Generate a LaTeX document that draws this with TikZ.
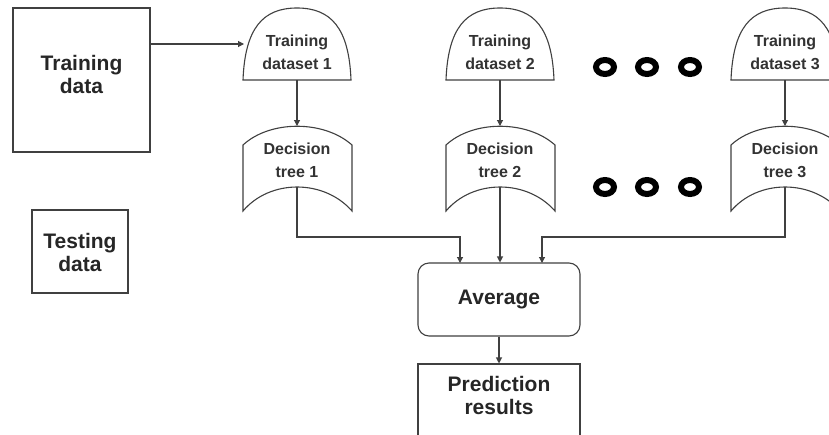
\documentclass[tikz,border=0pt]{standalone}
\usepackage{fontspec}
\setmainfont{Liberation Sans}
\usetikzlibrary{arrows.meta}
\begin{document}
\begin{tikzpicture}[x=1pt,y=-1pt,
  shp/.style={draw=black!75,line width=1.1pt,fill=white},
  conn/.style={draw=black!75,line width=1.1pt,-{Triangle[length=6pt,width=6pt]}},
  bigtxt/.style={font=\fontsize{21}{23}\selectfont\bfseries,align=center,text=black!85},
  smalltxt/.style={font=\fontsize{16}{23}\selectfont\bfseries,align=center,text=black!80},
  ring/.style={draw=black,line width=6pt}]
\useasboundingbox[fill=white] (0,0) rectangle (829,434);

% Training data
\node[shp,minimum width=137pt,minimum height=144pt,bigtxt] (train) at (81.5,80) {};
\node[bigtxt] (traintxt) at (81.5,74.5) {Training\\data};

% Testing data
\node[shp,minimum width=96pt,minimum height=83pt] (test) at (80,251.5) {};
\node[bigtxt] (testtxt) at (80,252) {Testing\\data};

% Dataset shapes (domes)
\foreach \cx/\nm in {297/1,500/2,785/3}{
  \path[shp] (\cx-54,80) .. controls (\cx-52,28) and (\cx-34,8) .. (\cx,8)
     .. controls (\cx+34,8) and (\cx+52,28) .. (\cx+54,80) -- cycle;
  \node[smalltxt] (ds\nm) at (\cx,52) {Training\\dataset \nm};
  \coordinate (ds\nm b) at (\cx,80);
  % Decision tree shapes
  \path[shp] (\cx-54,145) .. controls (\cx-27,120) and (\cx+27,120) .. (\cx+55,145)
     -- (\cx+55,211) .. controls (\cx+27,179) and (\cx-27,179) .. (\cx-54,211) -- cycle;
  \node[smalltxt] (dt\nm) at (\cx,160) {Decision\\tree \nm};
  \coordinate (dt\nm t) at (\cx,126);
  \coordinate (dt\nm b) at (\cx,187);
  \draw[conn] (ds\nm b) -- (dt\nm t);
}

% Training data -> dataset 1
\coordinate (ds1l) at (244,44);
\draw[conn] (train.east |- ds1l) -- (ds1l);

% dots
\foreach \x in {605,647,690}{
  \draw[ring] (\x,67) ellipse (9pt and 7pt);
  \draw[ring] (\x,187) ellipse (9pt and 7pt);
}

% Average and Prediction
\node[shp,rounded corners=11pt,minimum width=162pt,minimum height=73pt] (avg) at (499,299.5) {};
\node[bigtxt] (avgtxt) at (499,299) {Average};
\node[shp,minimum width=162pt,minimum height=90pt] (pred) at (499,409) {};
\node[bigtxt] (predtxt) at (499,395) {Prediction\\results};

\coordinate (in1) at (460,263);
\coordinate (in3) at (542,263);
\draw[conn] (dt1b) |- (460,237) -- (in1);
\draw[conn] (dt2b) -- (dt2b |- avg.north);
\draw[conn] (dt3b) |- (542,237) -- (in3);
\draw[conn] (avg.south) -- (pred.north);
\end{tikzpicture}
\end{document}
